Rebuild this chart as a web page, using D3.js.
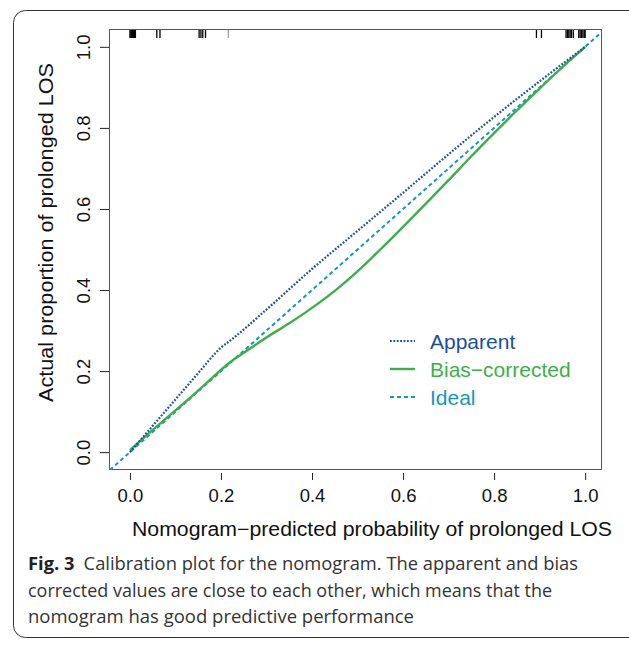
<!DOCTYPE html>
<html>
<head>
<meta charset="utf-8">
<script src="https://cdn.jsdelivr.net/npm/d3@7"></script>
<style>
  body { margin: 0; background: #fff; }
  svg { display: block; font-family: "Liberation Sans", Arial, sans-serif; }
</style>
</head>
<body>
<svg id="chart" width="629" height="645"></svg>
<script>
// values
var apparentX = [0.0, 0.05, 0.1, 0.15, 0.2, 0.22, 0.3, 0.4, 0.5, 0.6, 0.7, 0.8, 0.9, 1.0];
var apparentY = [0.0, 0.065, 0.13, 0.195, 0.258, 0.275, 0.352, 0.452, 0.546, 0.64, 0.735, 0.827, 0.915, 1.0];

var biasX = [0.0, 0.05, 0.1, 0.15, 0.2, 0.22, 0.25, 0.3, 0.35, 0.4, 0.45, 0.5, 0.55, 0.6, 0.65, 0.7, 0.75, 0.8, 0.85, 0.9, 0.95, 1.0];
var biasY = [0.005, 0.055, 0.103, 0.152, 0.203, 0.222, 0.245, 0.283, 0.318, 0.356, 0.398, 0.446, 0.5, 0.556, 0.613, 0.671, 0.73, 0.787, 0.843, 0.897, 0.95, 1.0];

var idealX = [-0.044, 1.037];

// rug of predicted probabilities along the top
var rugX = [0.0, 0.002, 0.004, 0.006, 0.008, 0.01, 0.012, 0.059, 0.066,
            0.152, 0.156, 0.16, 0.166, 0.893, 0.904,
            0.958, 0.961, 0.964, 0.967, 0.97, 0.974, 0.986, 0.989, 0.992, 0.995, 0.998, 1.0];
var rugGrey = [0.216];

var xTicks = [0, 0.2, 0.4, 0.6, 0.8, 1.0];
var yTicks = [0, 0.2, 0.4, 0.6, 0.8, 1.0];

var legendLabels = ["Apparent", "Bias\u2212corrected", "Ideal"];
var legendColors = ["#1c4f97", "#3daf4a", "#1597bb"];
var legendDash = ["1.8,1.6", null, "4,3"];

var captionLines = [
    "Calibration plot for the nomogram. The apparent and bias",
    "corrected values are close to each other, which means that the",
    "nomogram has good predictive performance"
];

var svg = d3.select("#chart");

// outer rounded panel (right edge runs off the page)
svg.append("rect")
    .attr("x", 13.5).attr("y", 10.5)
    .attr("width", 640).attr("height", 627)
    .attr("rx", 12).attr("ry", 12)
    .attr("fill", "none")
    .attr("stroke", "#333")
    .attr("stroke-width", 1);

var x = d3.scaleLinear().domain([-0.046, 1.037]).range([109, 602]);
var y = d3.scaleLinear().domain([-0.044, 1.044]).range([470, 29]);

svg.append("defs").append("clipPath")
    .attr("id", "plotclip")
    .append("rect")
    .attr("x", 109).attr("y", 29)
    .attr("width", 493).attr("height", 441);

// axes
var xAxis = svg.append("g")
    .attr("transform", "translate(0,473)")
    .call(d3.axisBottom(x).tickValues(xTicks).tickSize(7).tickPadding(9)
          .tickFormat(d3.format(".1f")));
xAxis.select(".domain").remove();
xAxis.selectAll("line").attr("stroke", "#222");
xAxis.selectAll("text")
    .attr("font-size", 18.5)
    .attr("font-family", "Liberation Sans, Arial, sans-serif")
    .attr("fill", "#111");

var yAxis = svg.append("g")
    .attr("transform", "translate(109,0)")
    .call(d3.axisLeft(y).tickValues(yTicks).tickSize(9)
          .tickFormat(d3.format(".1f")));
yAxis.select(".domain").remove();
yAxis.selectAll("line").attr("stroke", "#222");
yAxis.selectAll("text")
    .attr("x", 0)
    .attr("dy", 0)
    .attr("text-anchor", "middle")
    .attr("transform", "translate(-19,0) rotate(-90)")
    .attr("font-size", 18.5)
    .attr("font-family", "Liberation Sans, Arial, sans-serif")
    .attr("fill", "#111");

// plot frame
svg.append("rect")
    .attr("x", 109.5).attr("y", 29.5)
    .attr("width", 492).attr("height", 440)
    .attr("fill", "none")
    .attr("stroke", "#555")
    .attr("stroke-width", 1);

// rug
svg.append("g").selectAll("line")
    .data(rugX)
    .enter()
    .append("line")
    .attr("x1", function(d) { return x(d); })
    .attr("x2", function(d) { return x(d); })
    .attr("y1", 30).attr("y2", 38)
    .attr("stroke", "#000")
    .attr("stroke-width", 1.3);
svg.append("g").selectAll("line")
    .data(rugGrey)
    .enter()
    .append("line")
    .attr("x1", function(d) { return x(d); })
    .attr("x2", function(d) { return x(d); })
    .attr("y1", 30).attr("y2", 38)
    .attr("stroke", "#888")
    .attr("stroke-width", 1);

var lines = svg.append("g").attr("clip-path", "url(#plotclip)");

var line = d3.line()
    .x(function(d) { return x(d[0]); })
    .y(function(d) { return y(d[1]); })
    .curve(d3.curveMonotoneX);

var idealPts = idealX.map(function(v) { return [v, v]; });
var biasPts = biasX.map(function(v, i) { return [v, biasY[i]]; });
var appPts = apparentX.map(function(v, i) { return [v, apparentY[i]]; });

lines.append("path")
    .datum(idealPts)
    .attr("d", d3.line().x(function(d) { return x(d[0]); }).y(function(d) { return y(d[1]); }))
    .attr("fill", "none")
    .attr("stroke", legendColors[2])
    .attr("stroke-width", 2)
    .attr("stroke-dasharray", legendDash[2]);

lines.append("path")
    .datum(biasPts)
    .attr("d", line)
    .attr("fill", "none")
    .attr("stroke", legendColors[1])
    .attr("stroke-width", 2.4);

lines.append("path")
    .datum(appPts)
    .attr("d", line)
    .attr("fill", "none")
    .attr("stroke", legendColors[0])
    .attr("stroke-width", 2.2)
    .attr("stroke-dasharray", legendDash[0]);

// legend
var legend = svg.append("g").selectAll("g")
    .data(legendLabels)
    .enter()
    .append("g")
    .attr("transform", function(d, i) { return "translate(390," + (341 + i * 28) + ")"; });
legend.append("line")
    .attr("x1", 0).attr("x2", 25)
    .attr("stroke", function(d, i) { return legendColors[i]; })
    .attr("stroke-width", function(d, i) { return i == 1 ? 2.4 : 2; })
    .attr("stroke-dasharray", function(d, i) { return legendDash[i]; });
legend.append("text")
    .attr("x", 40)
    .attr("y", 7.5)
    .attr("font-size", 21)
    .attr("fill", function(d, i) { return legendColors[i]; })
    .text(function(d) { return d; });

// axis titles
svg.append("text")
    .attr("x", 132).attr("y", 536)
    .attr("font-size", 20)
    .attr("fill", "#111")
    .attr("textLength", 480)
    .attr("lengthAdjust", "spacingAndGlyphs")
    .text("Nomogram\u2212predicted probability of prolonged LOS");

svg.append("text")
    .attr("transform", "translate(53,402) rotate(-90)")
    .attr("font-size", 20)
    .attr("fill", "#111")
    .attr("textLength", 339)
    .attr("lengthAdjust", "spacingAndGlyphs")
    .text("Actual proportion of prolonged LOS");

// caption
var capWidths = [550, 524, 386];
var caption = svg.append("g").attr("font-family", "'Open Sans', 'Noto Sans', sans-serif")
    .attr("fill", "#333");
captionLines.forEach(function(t, i) {
    var tx = caption.append("text")
        .attr("x", 28)
        .attr("y", 570 + i * 26.5)
        .attr("font-size", 18.5)
        .attr("textLength", capWidths[i])
        .attr("lengthAdjust", "spacingAndGlyphs");
    if (i == 0) {
        tx.append("tspan").attr("font-weight", "bold").attr("fill", "#222").text("Fig. 3");
        tx.append("tspan").text("\u2002" + t);
    } else {
        tx.text(t);
    }
});
</script>
</body>
</html>
